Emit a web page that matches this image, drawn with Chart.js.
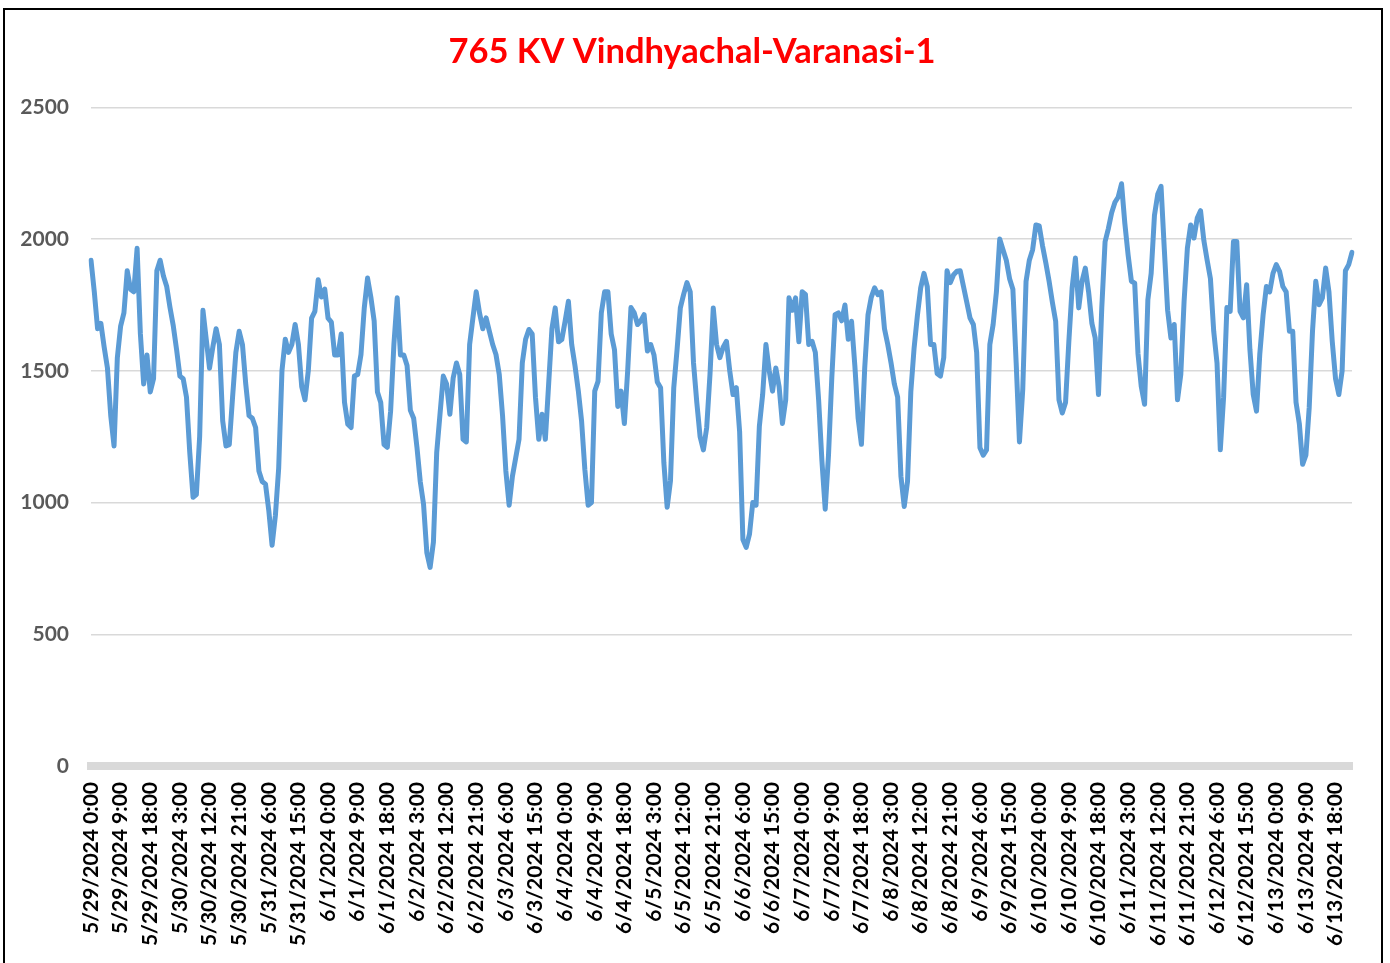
<!DOCTYPE html>
<html>
<head>
<meta charset="utf-8">
<script src="https://cdn.jsdelivr.net/npm/chart.js@4.4.1/dist/chart.umd.min.js"></script>
<style>
  html, body { margin: 0; padding: 0; background: #fff; }
  #wrap { position: relative; width: 1390px; height: 963px; overflow: hidden; }
  #chart { position: absolute; left: 0; top: 0; }
  #frame { position: absolute; left: 3px; top: 8px; width: 1376px; height: 990px; border: 2px solid #000; pointer-events: none; }
</style>
</head>
<body>
<div id="wrap">
  <canvas id="chart" width="1390" height="963"></canvas>
  <div id="frame"></div>
</div>
<script>
// hourly flow on the line, 5/29/2024 0:00 onwards
const flow1 = [1920,1800,1660,1680,1590,1510,1330,1215,1550,1670,
    1720,1880,1810,1800,1965,1640,1450,1560,1420,1470,
    1880,1920,1860,1820,1740,1670,1580,1480,1470,1400,
    1190,1020,1030,1250,1730,1620,1510,1590,1660,1600,
    1310,1215,1220,1400,1570,1650,1600,1450,1330];
const flow2 = [1320,1285,1120,1080,1070,970,838,950,1130,1500,
    1620,1570,1600,1676,1600,1440,1390,1500,1700,1726,
    1846,1780,1810,1700,1685,1560,1560,1640,1380,1297,
    1285,1480,1486,1562,1739,1852,1780,1690,1420,1380,
    1220,1210,1347,1600,1777,1560,1560,1520,1350];
const flow3 = [1320,1210,1080,994,810,754,850,1190,1335,1480,
    1450,1335,1473,1530,1486,1240,1230,1600,1701,1800,
    1720,1660,1701,1650,1600,1562,1486,1330,1120,990,
    1100,1170,1240,1530,1620,1657,1640,1400,1240,1335,
    1240,1450,1660,1739,1610,1619,1688,1764,1600];
const flow4 = [1520,1425,1310,1125,990,1000,1423,1460,1720,1800,
    1800,1640,1580,1365,1423,1300,1500,1740,1720,1676,
    1690,1713,1575,1600,1560,1458,1436,1150,982,1082,
    1436,1580,1739,1790,1835,1800,1530,1380,1250,1200,
    1284,1486,1739,1600,1550,1590,1612,1500,1410];
const flow5 = [1436,1270,860,830,880,1000,990,1290,1410,1600,
    1500,1423,1511,1440,1300,1390,1777,1730,1777,1610,
    1800,1790,1600,1612,1570,1390,1158,975,1180,1473,
    1713,1720,1690,1750,1620,1688,1520,1320,1221,1511,
    1713,1780,1815,1789,1800,1660,1600,1530];
const flow6 = [1450,1400,1100,985,1080,1420,1587,1710,1815,1870,
    1820,1600,1600,1490,1480,1550,1880,1835,1865,1878,
    1880,1820,1760,1700,1676,1570,1208,1180,1200,1600,
    1676,1800,2000,1960,1920,1850,1810,1530,1230,1430,
    1840,1920,1960,2054,2050,1975,1910,1840];
const flow7 = [1760,1688,1390,1340,1380,1612,1815,1928,1739,1840,
    1890,1800,1680,1625,1410,1739,1990,2040,2100,2140,
    2160,2210,2060,1940,1840,1833,1565,1440,1373,1770,
    1870,2090,2170,2200,1960,1730,1625,1676,1390,1486,
    1764,1966,2054,2004,2080,2108,1995,1920,1850,1650];
const flow8 = [1530,1200,1400,1740,1726,1991,1991,1726,1701,1827,
    1580,1410,1347,1565,1713,1820,1800,1870,1903,1878,
    1820,1800,1650,1650,1380,1300,1145,1180,1360,1650,
    1840,1751,1777,1890,1800,1612,1470,1410,1500,1880,
    1903,1950];

const flowValues = [...flow1, ...flow2, ...flow3, ...flow4, ...flow5, ...flow6, ...flow7, ...flow8];

// one label per hour, a tick every 9 hours
const startDate = new Date(2024, 4, 29, 0, 0);
const timeLabels = flowValues.map((v, i) => {
    const d = new Date(startDate.getTime() + i * 3600 * 1000);
    return (d.getMonth() + 1) + "/" + d.getDate() + "/" + d.getFullYear() + " " + d.getHours() + ":00";
});
const tickEvery = 9;
const yTicks = [0, 500, 1000, 1500, 2000, 2500];

// centre the title over the whole frame, not just the layout box
const titleShift = {
    id: "titleShift",
    afterLayout(chart) {
        if (chart.titleBlock) {
            chart.titleBlock.left = 32;
            chart.titleBlock.right = 1352;
        }
    },
};

const ctx = document.getElementById("chart");

new Chart(ctx, {
    type: "line",
    data: {
        labels: timeLabels,
        datasets: [
            {
                label: "765 KV Vindhyachal-Varanasi-1",
                data: flowValues,
                borderColor: "#5b9bd5",
                borderWidth: 5,
                pointRadius: 0,
                tension: 0,
                borderJoinStyle: "round",
                borderCapStyle: "round",
                fill: false,
            },
        ],
    },
    options: {
        responsive: false,
        animation: false,
        layout: {
            padding: { left: 0, right: 38, top: 0, bottom: 0 },
        },
        plugins: {
            legend: { display: false },
            tooltip: { enabled: false },
            title: {
                display: true,
                text: "765 KV Vindhyachal-Varanasi-1",
                color: "#ff0000",
                font: { family: "Lato", size: 34.5, weight: "bold" },
                padding: { top: 31, bottom: 35 },
            },
        },
        scales: {
            x: {
                type: "category",
                grid: { display: false, drawTicks: false },
                border: { display: true, color: "#d9d9d9", width: 8 },
                ticks: {
                    autoSkip: false,
                    minRotation: 90,
                    maxRotation: 90,
                    padding: 16,
                    color: "#000",
                    font: { family: "Lato", size: 21, weight: "bold" },
                    callback: function (value, index) {
                        return index % tickEvery === 0 ? timeLabels[index] : null;
                    },
                },
                afterFit: (scale) => { scale.height = 197; },
            },
            y: {
                min: yTicks[0],
                max: yTicks[yTicks.length - 1],
                afterBuildTicks: (scale) => { scale.ticks = yTicks.map((v) => ({ value: v })); },
                grid: { color: "#d9d9d9", lineWidth: 1.4, drawTicks: false },
                border: { display: false },
                ticks: {
                    padding: 22,
                    color: "#595959",
                    font: { family: "Lato", size: 21, weight: "bold" },
                    callback: (value) => String(value),
                },
                afterFit: (scale) => { scale.width = 91; },
            },
        },
    },
    plugins: [titleShift],
});
</script>
</body>
</html>
